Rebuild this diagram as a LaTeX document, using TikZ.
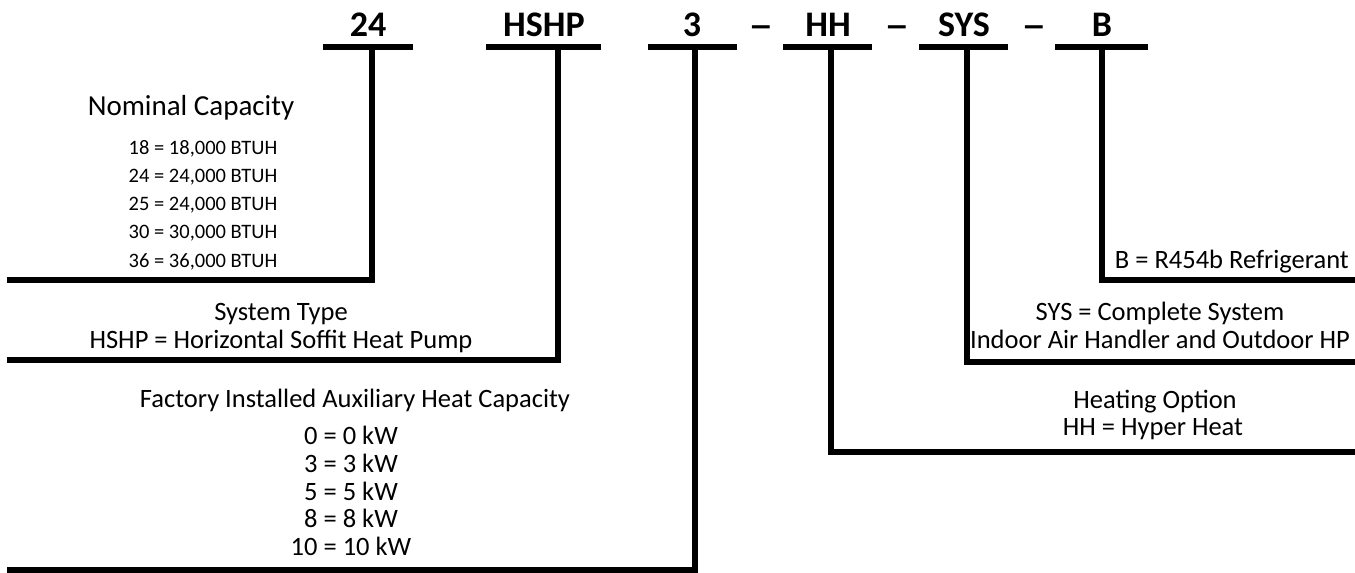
\documentclass[tikz,border=0pt]{standalone}
\usepackage{fontspec}
\setmainfont{Carlito}
\begin{document}
\begin{tikzpicture}[x=1pt,y=-1pt,
  hdr/.style={font=\bfseries\fontsize{36}{40}\selectfont, anchor=base, inner sep=0pt},
  lbl/.style={font=\fontsize{26.5}{30}\selectfont, anchor=base, inner sep=0pt},
  big/.style={font=\fontsize{29}{32}\selectfont, anchor=base, inner sep=0pt},
  sml/.style={font=\fontsize{20.5}{24}\selectfont, anchor=base, inner sep=0pt},
  bar/.style={line width=6pt},
  leader/.style={line width=6pt, line join=miter}]
\useasboundingbox (0,0) rectangle (1355,573);
% headers
\node[hdr] (h24) at (368,36) {24};
\node[hdr] (hshp) at (544,36) {HSHP};
\node[hdr] (h3) at (692,36) {3};
\node[hdr] (d1) at (761,37.5) {\scalebox{1.4}[1]{–}};
\node[hdr] (hhh) at (828,36) {HH};
\node[hdr] (d2) at (897,37.5) {\scalebox{1.4}[1]{–}};
\node[hdr] (hsys) at (964,36) {SYS};
\node[hdr] (d3) at (1034,37.5) {\scalebox{1.4}[1]{–}};
\node[hdr] (hb) at (1102,36) {B};
% bars
\draw[bar] (323,47) -- (413,47);
\draw[bar] (486,47) -- (601,47);
\draw[bar] (648,47) -- (737,47);
\draw[bar] (783,47) -- (872,47);
\draw[bar] (919,47) -- (1008,47);
\draw[bar] (1055,47) -- (1148,47);
% stem tops and free ends
\coordinate (s24) at (372,47);
\coordinate (sshp) at (558,47);
\coordinate (s3) at (695,47);
\coordinate (shh) at (831,47);
\coordinate (ssys) at (967,47);
\coordinate (sb) at (1102,47);
\coordinate (e24) at (7,280);
\coordinate (eshp) at (7,360);
\coordinate (e3) at (7,570);
\coordinate (ehh) at (1355,452);
\coordinate (esys) at (1355,362);
\coordinate (eb) at (1355,280);
\draw[leader] (s24) |- (e24);
\draw[leader] (sshp) |- (eshp);
\draw[leader] (s3) |- (e3);
\draw[leader] (shh) |- (ehh);
\draw[leader] (ssys) |- (esys);
\draw[leader] (sb) |- (eb);
% left labels
\node[big] (nomT) at (191,115) {Nominal Capacity};
\node[sml] (n18) at (203,154) {18 = 18,000 BTUH};
\node[sml] (n24) at (203,182) {24 = 24,000 BTUH};
\node[sml] (n25) at (203,210) {25 = 24,000 BTUH};
\node[sml] (n30) at (203,238) {30 = 30,000 BTUH};
\node[sml] (n36) at (203,267) {36 = 36,000 BTUH};
\node[lbl] (stT) at (281,320) {System Type};
\node[lbl] (stH) at (281,348) {HSHP = Horizontal Soffit Heat Pump};
\node[lbl] (fT) at (355,407) {Factory Installed Auxiliary Heat Capacity};
\node[lbl] (f0) at (351,444) {0 = 0 kW};
\node[lbl] (f3) at (351,472) {3 = 3 kW};
\node[lbl] (f5) at (351,500) {5 = 5 kW};
\node[lbl] (f8) at (351,527) {8 = 8 kW};
\node[lbl] (f10) at (351,555) {10 = 10 kW};
% right labels
\node[lbl, anchor=base east] (bT) at (1349,268) {B = R454b Refrigerant};
\node[lbl] (sysT) at (1160,320) {SYS = Complete System};
\node[lbl] (sysI) at (1160,348) {Indoor Air Handler and Outdoor HP};
\node[lbl] (hhT) at (1155,408) {Heating Option};
\node[lbl] (hhH) at (1153,435) {HH = Hyper Heat};
\end{tikzpicture}
\end{document}
